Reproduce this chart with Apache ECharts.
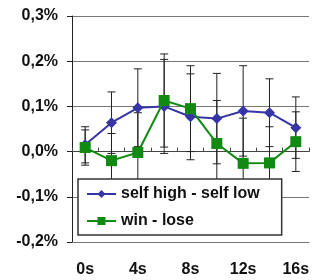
<!DOCTYPE html>
<html>
<head>
<meta charset="utf-8">
<script src="https://cdn.jsdelivr.net/npm/echarts@6/dist/echarts.min.js"></script>
<style>
  html, body { margin: 0; padding: 0; background: #fff; }
  #chart { width: 312px; height: 280px; }
</style>
</head>
<body>
<div id="chart"></div>
<script>
// values in percent points (0.1 = 0,1%)
const categories = ['0s', '2s', '4s', '6s', '8s', '10s', '12s', '14s', '16s']
const selfDiff = [0.015, 0.064, 0.097, 0.100, 0.077, 0.073, 0.090, 0.086, 0.053]
const selfErr = [0.040, 0.068, 0.086, 0.104, 0.095, 0.100, 0.100, 0.075, 0.068]
const winDiff = [0.009, -0.020, -0.002, 0.113, 0.095, 0.018, -0.026, -0.025, 0.022]
const winErr = [0.039, 0.060, 0.088, 0.103, 0.095, 0.095, 0.100, 0.080, 0.066]

const fontFamily = '"Liberation Sans", Arial, sans-serif'

function errorRows(values, errs) {
    return values.map((v, i) => [i, v - errs[i], v + errs[i]])
}

function renderError(params, api) {
    const x = api.value(0)
    const low = api.coord([x, api.value(1)])
    const high = api.coord([x, api.value(2)])
    const half = 4
    const style = { stroke: '#222', lineWidth: 1 }
    return {
        type: 'group',
        children: [
            { type: 'line', shape: { x1: high[0], y1: high[1], x2: low[0], y2: low[1] }, style },
            { type: 'line', shape: { x1: high[0] - half, y1: high[1], x2: high[0] + half, y2: high[1] }, style },
            { type: 'line', shape: { x1: low[0] - half, y1: low[1], x2: low[0] + half, y2: low[1] }, style }
        ]
    }
}

const chart = echarts.init(document.getElementById('chart'))
chart.setOption({
    animation: false,
    grid: {
        left: 72,
        right: 0,
        top: 16,
        bottom: 38
    },
    legend: {
        orient: 'vertical',
        left: 78,
        top: 179,
        padding: [7, 22, 6, 8],
        itemWidth: 29,
        itemHeight: 10,
        itemGap: 11,
        backgroundColor: '#fff',
        borderColor: '#333',
        borderWidth: 1.5,
        borderRadius: 0,
        data: ['self high - self low', 'win - lose'],
        textStyle: {
            fontFamily: fontFamily,
            fontSize: 16,
            fontWeight: 'bold',
            color: '#111'
        }
    },
    xAxis: [
        {
            type: 'category',
            data: categories,
            position: 'bottom',
            axisLine: { onZero: false, lineStyle: { color: '#777', width: 1 } },
            axisTick: { show: false },
            splitLine: { show: false },
            axisLabel: {
                interval: 1,
                margin: 20,
                fontFamily: fontFamily,
                fontSize: 16,
                fontWeight: 'bold',
                color: '#111'
            }
        },
        {
            type: 'category',
            data: categories,
            position: 'bottom',
            axisLine: { onZero: true, lineStyle: { color: '#444', width: 1 } },
            axisTick: { show: true, inside: true, length: 4, lineStyle: { color: '#444' } },
            axisLabel: { show: false },
            splitLine: { show: false }
        }
    ],
    yAxis: {
        type: 'value',
        min: -0.2,
        max: 0.3,
        interval: 0.1,
        axisLine: { show: true, lineStyle: { color: '#222', width: 1 } },
        axisTick: { show: true, length: 5, lineStyle: { color: '#222' } },
        splitLine: { show: true, lineStyle: { color: '#777', width: 1 } },
        axisLabel: {
            margin: 14,
            fontFamily: fontFamily,
            fontSize: 16,
            fontWeight: 'bold',
            color: '#111',
            formatter: (v) => (Math.round(v * 10) / 10).toFixed(1).replace('.', ',') + '%'
        }
    },
    series: [
        {
            type: 'custom',
            name: 'selfErr',
            renderItem: renderError,
            data: errorRows(selfDiff, selfErr),
            z: 1,
            silent: true
        },
        {
            type: 'custom',
            name: 'winErr',
            renderItem: renderError,
            data: errorRows(winDiff, winErr),
            z: 1,
            silent: true
        },
        {
            name: 'self high - self low',
            type: 'line',
            data: selfDiff,
            symbol: 'diamond',
            symbolSize: 11,
            color: '#3535a6',
            lineStyle: { width: 2 },
            z: 3
        },
        {
            name: 'win - lose',
            type: 'line',
            data: winDiff,
            symbol: 'rect',
            symbolSize: 11,
            color: '#108a10',
            lineStyle: { width: 2 },
            z: 4
        }
    ]
})
</script>
</body>
</html>
